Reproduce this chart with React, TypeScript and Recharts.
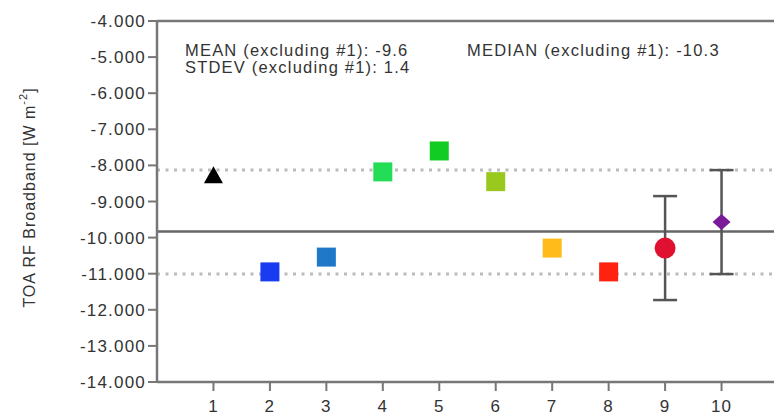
import { ScatterChart, Scatter, XAxis, YAxis, ReferenceLine, ErrorBar } from 'recharts';

// model number on the x axis
const models = [1, 2, 3, 4, 5, 6, 7, 8, 9, 10];
// TOA RF broadband values
const forcing = [-8.27, -10.95, -10.54, -8.18, -7.6, -8.45, -10.29, -10.95, -10.29, -9.57];
// +/- spread for the two entries that have whiskers
const spread = [null, null, null, null, null, null, null, null, 1.44, 1.44];
const markers = ['triangle', 'square', 'square', 'square', 'square', 'square', 'square', 'square', 'circle', 'diamond'];
const colors = ['#000000', '#1a3cf0', '#1f78c8', '#22dd55', '#11cc22', '#99c81e', '#ffbb1a', '#ff2211', '#e01030', '#7a1a99'];

const yTicks = [-14, -13, -12, -11, -10, -9, -8, -7, -6, -5, -4];
const meanLine = -9.83;
const bandLines = [-8.13, -11.01];

const AXIS = '#777';
const TEXT = '#333';

const data = models.map((m, i) => ({
  x: m,
  y: forcing[i],
  err: spread[i],
  marker: markers[i],
  color: colors[i],
}));

const Marker = (props: any) => {
  const { cx, cy, payload } = props;
  const c = payload.color;
  switch (payload.marker) {
    case 'triangle':
      return <polygon points={`${cx},${cy - 9} ${cx + 9.5},${cy + 8} ${cx - 9.5},${cy + 8}`} fill={c} />;
    case 'circle':
      return <circle cx={cx} cy={cy} r={10.5} fill={c} />;
    case 'diamond':
      return <polygon points={`${cx},${cy - 8} ${cx + 9},${cy} ${cx},${cy + 8} ${cx - 9},${cy}`} fill={c} />;
    default:
      return <rect x={cx - 9.5} y={cy - 9.5} width={19} height={19} fill={c} />;
  }
};

const YLabel = (props: any) => {
  const vb = props.viewBox || { x: 0, y: 0, height: 0 };
  const cx = vb.x + 29;
  const cy = vb.y + vb.height / 2 - 4;
  return (
    <text
      x={cx}
      y={cy}
      transform={`rotate(-90 ${cx} ${cy})`}
      textAnchor="middle"
      dominantBaseline="central"
      fill={TEXT}
      fontSize={16}
      style={{ letterSpacing: '1px' }}
    >
      TOA RF Broadband [W m
      <tspan dy={-6} fontSize={11}>-2</tspan>
      <tspan dy={6}>]</tspan>
    </text>
  );
};

export default function App() {
  return (
    <div style={{
      position: 'absolute',
      top: 0,
      left: 0,
      width: 774,
      height: 416,
      overflow: 'hidden',
      background: '#fff',
      fontFamily: '"Liberation Sans", Arial, sans-serif',
      letterSpacing: '1.2px',
    }}>
      <ScatterChart width={782} height={416} margin={{ top: 0, right: 4, bottom: 4, left: 0 }}>
        <XAxis
          type="number"
          dataKey="x"
          domain={[0, 11]}
          ticks={models}
          allowDataOverflow
          height={30}
          tickSize={9}
          tickMargin={9}
          tick={{ fill: TEXT, fontSize: 17 }}
          axisLine={{ stroke: AXIS, strokeWidth: 2.5 }}
          tickLine={{ stroke: AXIS, strokeWidth: 2 }}
        />
        <XAxis
          xAxisId="top"
          orientation="top"
          type="number"
          domain={[0, 11]}
          ticks={models}
          allowDataOverflow
          height={21}
          tickSize={8}
          tick={false}
          axisLine={{ stroke: AXIS, strokeWidth: 2.5 }}
          tickLine={{ stroke: AXIS, strokeWidth: 2 }}
        />
        <YAxis
          type="number"
          dataKey="y"
          domain={[-14, -4]}
          ticks={yTicks}
          allowDataOverflow
          width={157}
          tickSize={9}
          tickMargin={2}
          tickFormatter={(v: number) => v.toFixed(3)}
          tick={{ fill: TEXT, fontSize: 17 }}
          axisLine={{ stroke: AXIS, strokeWidth: 2.5 }}
          tickLine={{ stroke: AXIS, strokeWidth: 2 }}
          label={<YLabel />}
        />
        {bandLines.map((v) => (
          <ReferenceLine key={v} y={v} stroke="#bbb" strokeWidth={3} strokeDasharray="3 5.5" />
        ))}
        <ReferenceLine y={meanLine} stroke="#666" strokeWidth={2.5} />
        <Scatter data={data} shape={<Marker />} isAnimationActive={false}>
          <ErrorBar dataKey="err" direction="y" width={12} stroke="#555" strokeWidth={2.5} />
        </Scatter>
      </ScatterChart>
      <div style={{ position: 'absolute', left: 185, top: 42, fontSize: 16.5, lineHeight: '17px', color: TEXT, whiteSpace: 'nowrap' }}>
        <div>MEAN (excluding #1): -9.6</div>
        <div>STDEV (excluding #1): 1.4</div>
      </div>
      <div style={{ position: 'absolute', left: 467, top: 42, fontSize: 16.5, lineHeight: '17px', color: TEXT, whiteSpace: 'nowrap' }}>
        MEDIAN (excluding #1): -10.3
      </div>
    </div>
  );
}
